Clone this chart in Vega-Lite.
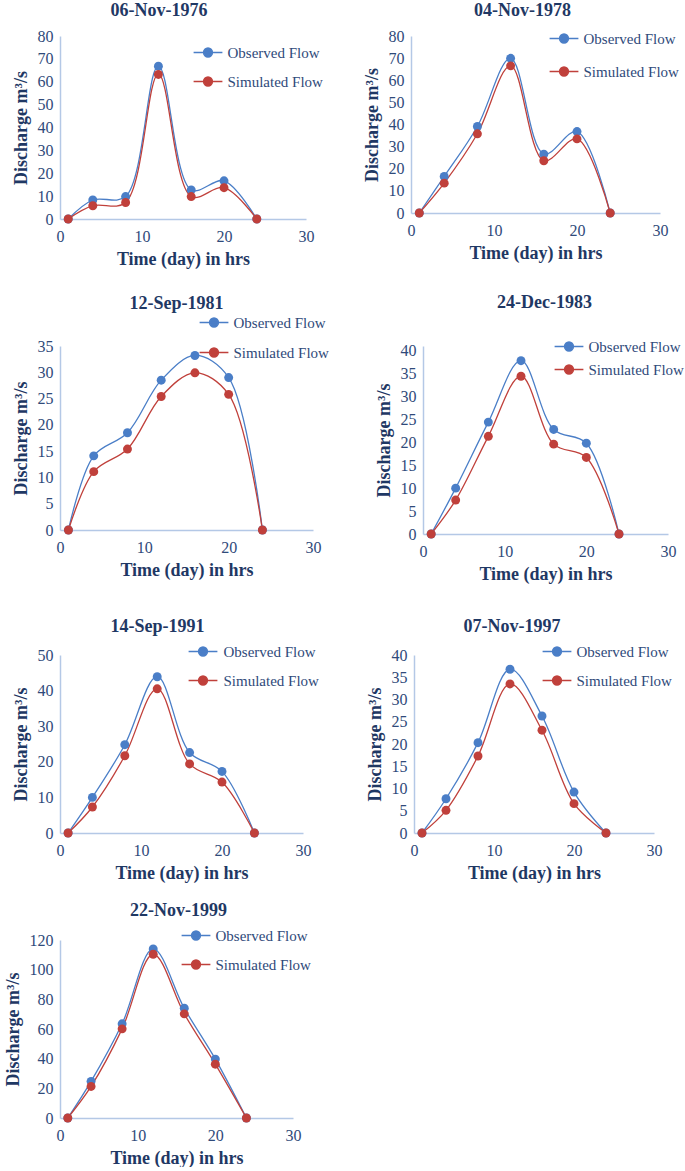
{
  "$schema": "https://vega.github.io/schema/vega-lite/v6.json",
  "autosize": {"type": "pad"},
  "padding": {"left": 4, "top": 2, "right": 0, "bottom": 0},
  "background": "white",
  "data": {"values": [
    {"event": "06-Nov-1976", "series": "Observed Flow", "t": 1, "q": 0},
    {"event": "06-Nov-1976", "series": "Observed Flow", "t": 4, "q": 8.3},
    {"event": "06-Nov-1976", "series": "Observed Flow", "t": 8, "q": 9.8},
    {"event": "06-Nov-1976", "series": "Observed Flow", "t": 12, "q": 66.8},
    {"event": "06-Nov-1976", "series": "Observed Flow", "t": 16, "q": 12.7},
    {"event": "06-Nov-1976", "series": "Observed Flow", "t": 20, "q": 16.7},
    {"event": "06-Nov-1976", "series": "Observed Flow", "t": 24, "q": 0},
    {"event": "06-Nov-1976", "series": "Simulated Flow", "t": 1, "q": 0},
    {"event": "06-Nov-1976", "series": "Simulated Flow", "t": 4, "q": 5.8},
    {"event": "06-Nov-1976", "series": "Simulated Flow", "t": 8, "q": 7.2},
    {"event": "06-Nov-1976", "series": "Simulated Flow", "t": 12, "q": 63.2},
    {"event": "06-Nov-1976", "series": "Simulated Flow", "t": 16, "q": 9.8},
    {"event": "06-Nov-1976", "series": "Simulated Flow", "t": 20, "q": 13.7},
    {"event": "06-Nov-1976", "series": "Simulated Flow", "t": 24, "q": 0},
    {"event": "04-Nov-1978", "series": "Observed Flow", "t": 1, "q": 0},
    {"event": "04-Nov-1978", "series": "Observed Flow", "t": 4, "q": 16.5},
    {"event": "04-Nov-1978", "series": "Observed Flow", "t": 8, "q": 39.1},
    {"event": "04-Nov-1978", "series": "Observed Flow", "t": 12, "q": 69.9},
    {"event": "04-Nov-1978", "series": "Observed Flow", "t": 16, "q": 26.6},
    {"event": "04-Nov-1978", "series": "Observed Flow", "t": 20, "q": 36.8},
    {"event": "04-Nov-1978", "series": "Observed Flow", "t": 24, "q": 0},
    {"event": "04-Nov-1978", "series": "Simulated Flow", "t": 1, "q": 0},
    {"event": "04-Nov-1978", "series": "Simulated Flow", "t": 4, "q": 13.5},
    {"event": "04-Nov-1978", "series": "Simulated Flow", "t": 8, "q": 35.8},
    {"event": "04-Nov-1978", "series": "Simulated Flow", "t": 12, "q": 66.5},
    {"event": "04-Nov-1978", "series": "Simulated Flow", "t": 16, "q": 23.6},
    {"event": "04-Nov-1978", "series": "Simulated Flow", "t": 20, "q": 33.5},
    {"event": "04-Nov-1978", "series": "Simulated Flow", "t": 24, "q": 0},
    {"event": "12-Sep-1981", "series": "Observed Flow", "t": 1, "q": 0},
    {"event": "12-Sep-1981", "series": "Observed Flow", "t": 4, "q": 14.1},
    {"event": "12-Sep-1981", "series": "Observed Flow", "t": 8, "q": 18.5},
    {"event": "12-Sep-1981", "series": "Observed Flow", "t": 12, "q": 28.5},
    {"event": "12-Sep-1981", "series": "Observed Flow", "t": 16, "q": 33.2},
    {"event": "12-Sep-1981", "series": "Observed Flow", "t": 20, "q": 29.0},
    {"event": "12-Sep-1981", "series": "Observed Flow", "t": 24, "q": 0},
    {"event": "12-Sep-1981", "series": "Simulated Flow", "t": 1, "q": 0},
    {"event": "12-Sep-1981", "series": "Simulated Flow", "t": 4, "q": 11.1},
    {"event": "12-Sep-1981", "series": "Simulated Flow", "t": 8, "q": 15.4},
    {"event": "12-Sep-1981", "series": "Simulated Flow", "t": 12, "q": 25.4},
    {"event": "12-Sep-1981", "series": "Simulated Flow", "t": 16, "q": 29.9},
    {"event": "12-Sep-1981", "series": "Simulated Flow", "t": 20, "q": 25.8},
    {"event": "12-Sep-1981", "series": "Simulated Flow", "t": 24, "q": 0},
    {"event": "24-Dec-1983", "series": "Observed Flow", "t": 1, "q": 0},
    {"event": "24-Dec-1983", "series": "Observed Flow", "t": 4, "q": 10.0},
    {"event": "24-Dec-1983", "series": "Observed Flow", "t": 8, "q": 24.4},
    {"event": "24-Dec-1983", "series": "Observed Flow", "t": 12, "q": 37.8},
    {"event": "24-Dec-1983", "series": "Observed Flow", "t": 16, "q": 22.8},
    {"event": "24-Dec-1983", "series": "Observed Flow", "t": 20, "q": 19.8},
    {"event": "24-Dec-1983", "series": "Observed Flow", "t": 24, "q": 0},
    {"event": "24-Dec-1983", "series": "Simulated Flow", "t": 1, "q": 0},
    {"event": "24-Dec-1983", "series": "Simulated Flow", "t": 4, "q": 7.4},
    {"event": "24-Dec-1983", "series": "Simulated Flow", "t": 8, "q": 21.3},
    {"event": "24-Dec-1983", "series": "Simulated Flow", "t": 12, "q": 34.4},
    {"event": "24-Dec-1983", "series": "Simulated Flow", "t": 16, "q": 19.6},
    {"event": "24-Dec-1983", "series": "Simulated Flow", "t": 20, "q": 16.7},
    {"event": "24-Dec-1983", "series": "Simulated Flow", "t": 24, "q": 0},
    {"event": "14-Sep-1991", "series": "Observed Flow", "t": 1, "q": 0},
    {"event": "14-Sep-1991", "series": "Observed Flow", "t": 4, "q": 10.0},
    {"event": "14-Sep-1991", "series": "Observed Flow", "t": 8, "q": 24.8},
    {"event": "14-Sep-1991", "series": "Observed Flow", "t": 12, "q": 43.9},
    {"event": "14-Sep-1991", "series": "Observed Flow", "t": 16, "q": 22.6},
    {"event": "14-Sep-1991", "series": "Observed Flow", "t": 20, "q": 17.3},
    {"event": "14-Sep-1991", "series": "Observed Flow", "t": 24, "q": 0},
    {"event": "14-Sep-1991", "series": "Simulated Flow", "t": 1, "q": 0},
    {"event": "14-Sep-1991", "series": "Simulated Flow", "t": 4, "q": 7.3},
    {"event": "14-Sep-1991", "series": "Simulated Flow", "t": 8, "q": 21.7},
    {"event": "14-Sep-1991", "series": "Simulated Flow", "t": 12, "q": 40.5},
    {"event": "14-Sep-1991", "series": "Simulated Flow", "t": 16, "q": 19.4},
    {"event": "14-Sep-1991", "series": "Simulated Flow", "t": 20, "q": 14.3},
    {"event": "14-Sep-1991", "series": "Simulated Flow", "t": 24, "q": 0},
    {"event": "07-Nov-1997", "series": "Observed Flow", "t": 1, "q": 0},
    {"event": "07-Nov-1997", "series": "Observed Flow", "t": 4, "q": 7.7},
    {"event": "07-Nov-1997", "series": "Observed Flow", "t": 8, "q": 20.3},
    {"event": "07-Nov-1997", "series": "Observed Flow", "t": 12, "q": 36.8},
    {"event": "07-Nov-1997", "series": "Observed Flow", "t": 16, "q": 26.3},
    {"event": "07-Nov-1997", "series": "Observed Flow", "t": 20, "q": 9.2},
    {"event": "07-Nov-1997", "series": "Observed Flow", "t": 24, "q": 0},
    {"event": "07-Nov-1997", "series": "Simulated Flow", "t": 1, "q": 0},
    {"event": "07-Nov-1997", "series": "Simulated Flow", "t": 4, "q": 5.1},
    {"event": "07-Nov-1997", "series": "Simulated Flow", "t": 8, "q": 17.3},
    {"event": "07-Nov-1997", "series": "Simulated Flow", "t": 12, "q": 33.5},
    {"event": "07-Nov-1997", "series": "Simulated Flow", "t": 16, "q": 23.1},
    {"event": "07-Nov-1997", "series": "Simulated Flow", "t": 20, "q": 6.6},
    {"event": "07-Nov-1997", "series": "Simulated Flow", "t": 24, "q": 0},
    {"event": "22-Nov-1999", "series": "Observed Flow", "t": 1, "q": 0},
    {"event": "22-Nov-1999", "series": "Observed Flow", "t": 4, "q": 24.7},
    {"event": "22-Nov-1999", "series": "Observed Flow", "t": 8, "q": 63.5},
    {"event": "22-Nov-1999", "series": "Observed Flow", "t": 12, "q": 114},
    {"event": "22-Nov-1999", "series": "Observed Flow", "t": 16, "q": 74},
    {"event": "22-Nov-1999", "series": "Observed Flow", "t": 20, "q": 39.7},
    {"event": "22-Nov-1999", "series": "Observed Flow", "t": 24, "q": 0},
    {"event": "22-Nov-1999", "series": "Simulated Flow", "t": 1, "q": 0},
    {"event": "22-Nov-1999", "series": "Simulated Flow", "t": 4, "q": 21.3},
    {"event": "22-Nov-1999", "series": "Simulated Flow", "t": 8, "q": 60.1},
    {"event": "22-Nov-1999", "series": "Simulated Flow", "t": 12, "q": 110.4},
    {"event": "22-Nov-1999", "series": "Simulated Flow", "t": 16, "q": 70.2},
    {"event": "22-Nov-1999", "series": "Simulated Flow", "t": 20, "q": 36.3},
    {"event": "22-Nov-1999", "series": "Simulated Flow", "t": 24, "q": 0}
  ]},
  "bounds": "full",
  "spacing": 20,
  "resolve": {"scale": {"color": "independent"}, "legend": {"color": "independent"}},
  "vconcat": [
    {
      "bounds": "flush",
      "spacing": 105,
      "resolve": {"scale": {"color": "independent"}, "legend": {"color": "independent"}},
      "hconcat": [
        {
          "width": 246, "height": 183,
          "title": {"text": "06-Nov-1976", "dx": -24, "offset": 8},
          "transform": [{"filter": "datum.event === '06-Nov-1976'"}],
          "encoding": {
            "x": {"field": "t", "type": "quantitative", "scale": {"domain": [0, 30], "nice": false}, "axis": {"values": [0, 10, 20, 30], "title": "Time (day) in hrs"}},
            "y": {"field": "q", "type": "quantitative", "scale": {"domain": [0, 80], "nice": false}, "axis": {"values": [0, 10, 20, 30, 40, 50, 60, 70, 80], "title": "Discharge m³/s"}},
            "color": {"field": "series", "type": "nominal", "scale": {"domain": ["Observed Flow", "Simulated Flow"], "range": ["#4A7EC7", "#C0403B"]},
              "legend": {"title": null, "orient": "none", "legendX": 134.5, "legendY": 9, "rowPadding": 13, "symbolType": "M-3.2,0L3.2,0M1,0A1,1,0,1,1,-1,0A1,1,0,1,1,1,0Z", "symbolSize": 81, "symbolStrokeWidth": 1.3, "symbolOffset": 6, "labelOffset": 12, "labelFont": "Liberation Serif", "labelFontSize": 15, "labelColor": "#2F4A7A", "labelLimit": 200,
                "encode": {"symbols": {"update": {"stroke": {"signal": "datum.value === 'Observed Flow' ? '#4A7EC7' : '#C0403B'"}, "fill": {"signal": "datum.value === 'Observed Flow' ? '#4A7EC7' : '#C0403B'"}, "opacity": {"value": 1}}}}}}
          },
          "layer": [
            {"mark": {"type": "line", "interpolate": "catmull-rom", "strokeWidth": 1.3}},
            {"mark": {"type": "point", "filled": true, "size": 80, "opacity": 1}}
          ]
        },
        {
          "width": 249, "height": 177,
          "title": {"text": "04-Nov-1978", "dx": -13, "offset": 8},
          "transform": [{"filter": "datum.event === '04-Nov-1978'"}],
          "encoding": {
            "x": {"field": "t", "type": "quantitative", "scale": {"domain": [0, 30], "nice": false}, "axis": {"values": [0, 10, 20, 30], "title": "Time (day) in hrs"}},
            "y": {"field": "q", "type": "quantitative", "scale": {"domain": [0, 80], "nice": false}, "axis": {"values": [0, 10, 20, 30, 40, 50, 60, 70, 80], "title": "Discharge m³/s"}},
            "color": {"field": "series", "type": "nominal", "scale": {"domain": ["Observed Flow", "Simulated Flow"], "range": ["#4A7EC7", "#C0403B"]},
              "legend": {"title": null, "orient": "none", "legendX": 139.5, "legendY": -5, "rowPadding": 17, "symbolType": "M-3.2,0L3.2,0M1,0A1,1,0,1,1,-1,0A1,1,0,1,1,1,0Z", "symbolSize": 81, "symbolStrokeWidth": 1.3, "symbolOffset": 6, "labelOffset": 12, "labelFont": "Liberation Serif", "labelFontSize": 15, "labelColor": "#2F4A7A", "labelLimit": 200,
                "encode": {"symbols": {"update": {"stroke": {"signal": "datum.value === 'Observed Flow' ? '#4A7EC7' : '#C0403B'"}, "fill": {"signal": "datum.value === 'Observed Flow' ? '#4A7EC7' : '#C0403B'"}, "opacity": {"value": 1}}}}}}
          },
          "layer": [
            {"mark": {"type": "line", "interpolate": "catmull-rom", "strokeWidth": 1.3}},
            {"mark": {"type": "point", "filled": true, "size": 80, "opacity": 1}}
          ]
        }
      ]
    },
    {
      "bounds": "flush",
      "spacing": 110,
      "resolve": {"scale": {"color": "independent"}, "legend": {"color": "independent"}},
      "hconcat": [
        {
          "width": 253, "height": 184,
          "title": {"text": ["", "12-Sep-1981"], "lineHeight": 6, "dx": -10, "offset": 2},
          "transform": [{"filter": "datum.event === '12-Sep-1981'"}],
          "encoding": {
            "x": {"field": "t", "type": "quantitative", "scale": {"domain": [0, 30], "nice": false}, "axis": {"values": [0, 10, 20, 30], "title": "Time (day) in hrs"}},
            "y": {"field": "q", "type": "quantitative", "scale": {"domain": [0, 35], "nice": false}, "axis": {"values": [0, 5, 10, 15, 20, 25, 30, 35], "title": "Discharge m³/s"}},
            "color": {"field": "series", "type": "nominal", "scale": {"domain": ["Observed Flow", "Simulated Flow"], "range": ["#4A7EC7", "#C0403B"]},
              "legend": {"title": null, "orient": "none", "legendX": 140.5, "legendY": -31, "rowPadding": 14, "symbolType": "M-3.2,0L3.2,0M1,0A1,1,0,1,1,-1,0A1,1,0,1,1,1,0Z", "symbolSize": 81, "symbolStrokeWidth": 1.3, "symbolOffset": 6, "labelOffset": 12, "labelFont": "Liberation Serif", "labelFontSize": 15, "labelColor": "#2F4A7A", "labelLimit": 200,
                "encode": {"symbols": {"update": {"stroke": {"signal": "datum.value === 'Observed Flow' ? '#4A7EC7' : '#C0403B'"}, "fill": {"signal": "datum.value === 'Observed Flow' ? '#4A7EC7' : '#C0403B'"}, "opacity": {"value": 1}}}}}}
          },
          "layer": [
            {"mark": {"type": "line", "interpolate": "catmull-rom", "strokeWidth": 1.3}},
            {"mark": {"type": "point", "filled": true, "size": 80, "opacity": 1}}
          ]
        },
        {
          "width": 245, "height": 188,
          "title": {"text": ["", "24-Dec-1983"], "lineHeight": 6, "dx": -1, "offset": 27},
          "transform": [{"filter": "datum.event === '24-Dec-1983'"}],
          "encoding": {
            "x": {"field": "t", "type": "quantitative", "scale": {"domain": [0, 30], "nice": false}, "axis": {"values": [0, 10, 20, 30], "title": "Time (day) in hrs"}},
            "y": {"field": "q", "type": "quantitative", "scale": {"domain": [0, 41], "nice": false}, "axis": {"values": [0, 5, 10, 15, 20, 25, 30, 35, 40], "title": "Discharge m³/s"}},
            "color": {"field": "series", "type": "nominal", "scale": {"domain": ["Observed Flow", "Simulated Flow"], "range": ["#4A7EC7", "#C0403B"]},
              "legend": {"title": null, "orient": "none", "legendX": 132.5, "legendY": -7, "rowPadding": 7, "symbolType": "M-3.2,0L3.2,0M1,0A1,1,0,1,1,-1,0A1,1,0,1,1,1,0Z", "symbolSize": 81, "symbolStrokeWidth": 1.3, "symbolOffset": 6, "labelOffset": 12, "labelFont": "Liberation Serif", "labelFontSize": 15, "labelColor": "#2F4A7A", "labelLimit": 200,
                "encode": {"symbols": {"update": {"stroke": {"signal": "datum.value === 'Observed Flow' ? '#4A7EC7' : '#C0403B'"}, "fill": {"signal": "datum.value === 'Observed Flow' ? '#4A7EC7' : '#C0403B'"}, "opacity": {"value": 1}}}}}}
          },
          "layer": [
            {"mark": {"type": "line", "interpolate": "catmull-rom", "strokeWidth": 1.3}},
            {"mark": {"type": "point", "filled": true, "size": 80, "opacity": 1}}
          ]
        }
      ]
    },
    {
      "bounds": "flush",
      "spacing": 111,
      "resolve": {"scale": {"color": "independent"}, "legend": {"color": "independent"}},
      "hconcat": [
        {
          "width": 243, "height": 178,
          "title": {"text": ["", "14-Sep-1991"], "lineHeight": 15, "dx": -24, "offset": 8},
          "transform": [{"filter": "datum.event === '14-Sep-1991'"}],
          "encoding": {
            "x": {"field": "t", "type": "quantitative", "scale": {"domain": [0, 30], "nice": false}, "axis": {"values": [0, 10, 20, 30], "title": "Time (day) in hrs"}},
            "y": {"field": "q", "type": "quantitative", "scale": {"domain": [0, 50], "nice": false}, "axis": {"values": [0, 10, 20, 30, 40, 50], "title": "Discharge m³/s"}},
            "color": {"field": "series", "type": "nominal", "scale": {"domain": ["Observed Flow", "Simulated Flow"], "range": ["#4A7EC7", "#C0403B"]},
              "legend": {"title": null, "orient": "none", "legendX": 129.5, "legendY": -11, "rowPadding": 13, "symbolType": "M-3.2,0L3.2,0M1,0A1,1,0,1,1,-1,0A1,1,0,1,1,1,0Z", "symbolSize": 81, "symbolStrokeWidth": 1.3, "symbolOffset": 6, "labelOffset": 13, "labelFont": "Liberation Serif", "labelFontSize": 15, "labelColor": "#2F4A7A", "labelLimit": 200,
                "encode": {"symbols": {"update": {"stroke": {"signal": "datum.value === 'Observed Flow' ? '#4A7EC7' : '#C0403B'"}, "fill": {"signal": "datum.value === 'Observed Flow' ? '#4A7EC7' : '#C0403B'"}, "opacity": {"value": 1}}}}}}
          },
          "layer": [
            {"mark": {"type": "line", "interpolate": "catmull-rom", "strokeWidth": 1.3}},
            {"mark": {"type": "point", "filled": true, "size": 80, "opacity": 1}}
          ]
        },
        {
          "width": 240, "height": 178,
          "title": {"text": ["", "07-Nov-1997"], "lineHeight": 15, "dx": -22, "offset": 8},
          "transform": [{"filter": "datum.event === '07-Nov-1997'"}],
          "encoding": {
            "x": {"field": "t", "type": "quantitative", "scale": {"domain": [0, 30], "nice": false}, "axis": {"values": [0, 10, 20, 30], "title": "Time (day) in hrs"}},
            "y": {"field": "q", "type": "quantitative", "scale": {"domain": [0, 40], "nice": false}, "axis": {"values": [0, 5, 10, 15, 20, 25, 30, 35, 40], "title": "Discharge m³/s"}},
            "color": {"field": "series", "type": "nominal", "scale": {"domain": ["Observed Flow", "Simulated Flow"], "range": ["#4A7EC7", "#C0403B"]},
              "legend": {"title": null, "orient": "none", "legendX": 129.5, "legendY": -11, "rowPadding": 13, "symbolType": "M-3.2,0L3.2,0M1,0A1,1,0,1,1,-1,0A1,1,0,1,1,1,0Z", "symbolSize": 81, "symbolStrokeWidth": 1.3, "symbolOffset": 6, "labelOffset": 12, "labelFont": "Liberation Serif", "labelFontSize": 15, "labelColor": "#2F4A7A", "labelLimit": 200,
                "encode": {"symbols": {"update": {"stroke": {"signal": "datum.value === 'Observed Flow' ? '#4A7EC7' : '#C0403B'"}, "fill": {"signal": "datum.value === 'Observed Flow' ? '#4A7EC7' : '#C0403B'"}, "opacity": {"value": 1}}}}}}
          },
          "layer": [
            {"mark": {"type": "line", "interpolate": "catmull-rom", "strokeWidth": 1.3}},
            {"mark": {"type": "point", "filled": true, "size": 80, "opacity": 1}}
          ]
        }
      ]
    },
    {
      "width": 233, "height": 178,
      "title": {"text": "22-Nov-1999", "dx": 2, "offset": 8},
      "transform": [{"filter": "datum.event === '22-Nov-1999'"}],
      "encoding": {
        "x": {"field": "t", "type": "quantitative", "scale": {"domain": [0, 30], "nice": false}, "axis": {"values": [0, 10, 20, 30], "title": "Time (day) in hrs"}},
        "y": {"field": "q", "type": "quantitative", "scale": {"domain": [0, 120], "nice": false}, "axis": {"values": [0, 20, 40, 60, 80, 100, 120], "title": "Discharge m³/s"}},
        "color": {"field": "series", "type": "nominal", "scale": {"domain": ["Observed Flow", "Simulated Flow"], "range": ["#4A7EC7", "#C0403B"]},
          "legend": {"title": null, "orient": "none", "legendX": 122.5, "legendY": -12, "rowPadding": 13, "symbolType": "M-3.2,0L3.2,0M1,0A1,1,0,1,1,-1,0A1,1,0,1,1,1,0Z", "symbolSize": 81, "symbolStrokeWidth": 1.3, "symbolOffset": 6, "labelOffset": 12, "labelFont": "Liberation Serif", "labelFontSize": 15, "labelColor": "#2F4A7A", "labelLimit": 200,
            "encode": {"symbols": {"update": {"stroke": {"signal": "datum.value === 'Observed Flow' ? '#4A7EC7' : '#C0403B'"}, "fill": {"signal": "datum.value === 'Observed Flow' ? '#4A7EC7' : '#C0403B'"}, "opacity": {"value": 1}}}}}}
      },
      "layer": [
        {"mark": {"type": "line", "interpolate": "catmull-rom", "strokeWidth": 1.3}},
        {"mark": {"type": "point", "filled": true, "size": 80, "opacity": 1}}
      ]
    }
  ],
  "config": {
    "view": {"stroke": null},
    "axis": {"domainColor": "#B4C8E6", "domainWidth": 1.5, "ticks": false, "tickSize": 0, "grid": false, "labelFont": "Liberation Serif", "labelFontSize": 16, "labelColor": "#2F4A7A", "titleFont": "Liberation Serif", "titleFontSize": 18, "titleFontWeight": "bold", "titleColor": "#1F3864"},
    "axisX": {"labelPadding": 9, "titlePadding": 6, "labelFlush": false},
    "axisY": {"labelPadding": 7, "titlePadding": 7},
    "title": {"font": "Liberation Serif", "fontSize": 18, "fontWeight": "bold", "color": "#1F3864", "frame": "group", "anchor": "middle"}
  }
}
